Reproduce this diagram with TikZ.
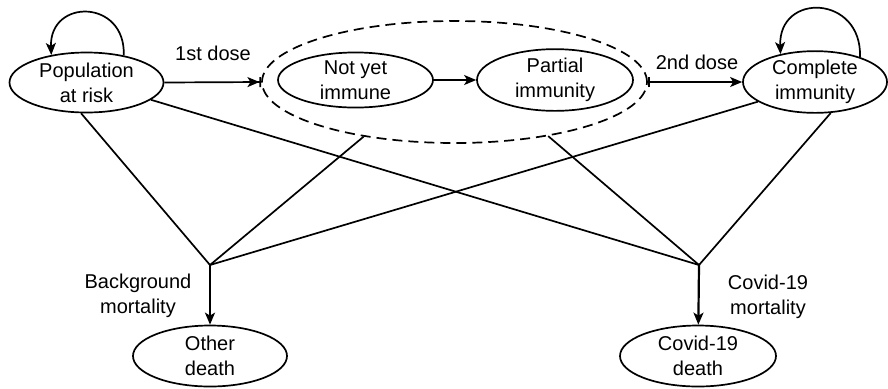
\documentclass[tikz,border=0pt]{standalone}
\usepackage{fontspec}
\setmainfont{Liberation Sans}
\usetikzlibrary{shapes.geometric,arrows.meta}
\begin{document}
\begin{tikzpicture}[x=0.5pt,y=0.5pt,line width=0.85pt,
  every node/.style={font=\fontsize{10}{12.5}\selectfont, align=center},
  state/.style={ellipse, draw, inner sep=0pt, minimum width=77pt, minimum height=30pt},
  tip/.style={-{Stealth[length=6pt,width=5pt,inset=1.5pt]}}]
\useasboundingbox (0,0) rectangle (888,388);
\node[state] (pop) at (86.5,305.5){Population\\at risk};
\node[state, dashed, dash pattern=on 5pt off 3pt, minimum width=192.5pt, minimum height=61pt] (vac) at (454.5,306){};
\node[state, minimum width=77.5pt, minimum height=27.5pt] (nyi) at (355.5,308){Not yet\\immune};
\node[state, minimum width=78pt, minimum height=27.5pt] (pim) at (555,308){Partial\\immunity};
\node[state, minimum width=72pt, minimum height=29pt] (cim) at (815,306){Complete\\immunity};
\node[state, minimum height=30.5pt] (oth) at (210,32){Other\\death};
\node[state, minimum width=78pt, minimum height=30.5pt] (cov) at (698,32){Covid-19\\death};
\coordinate (jL) at (210,123);
\coordinate (jR) at (699,123);
\node (d1) at (213,335){1st dose};
\node (d2) at (697,326){2nd dose};
\node (bm) at (138,92){Background\\mortality};
\node (cm) at (768,91){Covid-19\\mortality};
\draw[tip] (pop.36) to[out=88, in=92, looseness=2] (pop.142);
\draw[tip] (cim.29) to[out=88, in=92, looseness=2] (cim.141);
\draw[-{Stealth[length=6pt,width=5pt,inset=1.5pt] Bar[width=5pt]}] (pop.east) -- (vac.west);
\draw[tip] (nyi) -- (pim);
\draw[{Bar[width=5pt]}-{Stealth[length=6pt,width=5pt,inset=1.5pt]}] (vac.east) -- (cim.west);
\draw (pop.260) -- (jL);
\draw (vac.211) -- (jL);
\draw (cim.199) -- (jL);
\draw (pop.345) -- (jR);
\draw (vac.330) -- (jR);
\draw (cim.297) -- (jR);
\draw[tip, line width=1.1pt] (jL) -- (oth);
\draw[tip, line width=1.1pt] (jR) -- (cov);
\end{tikzpicture}
\end{document}
